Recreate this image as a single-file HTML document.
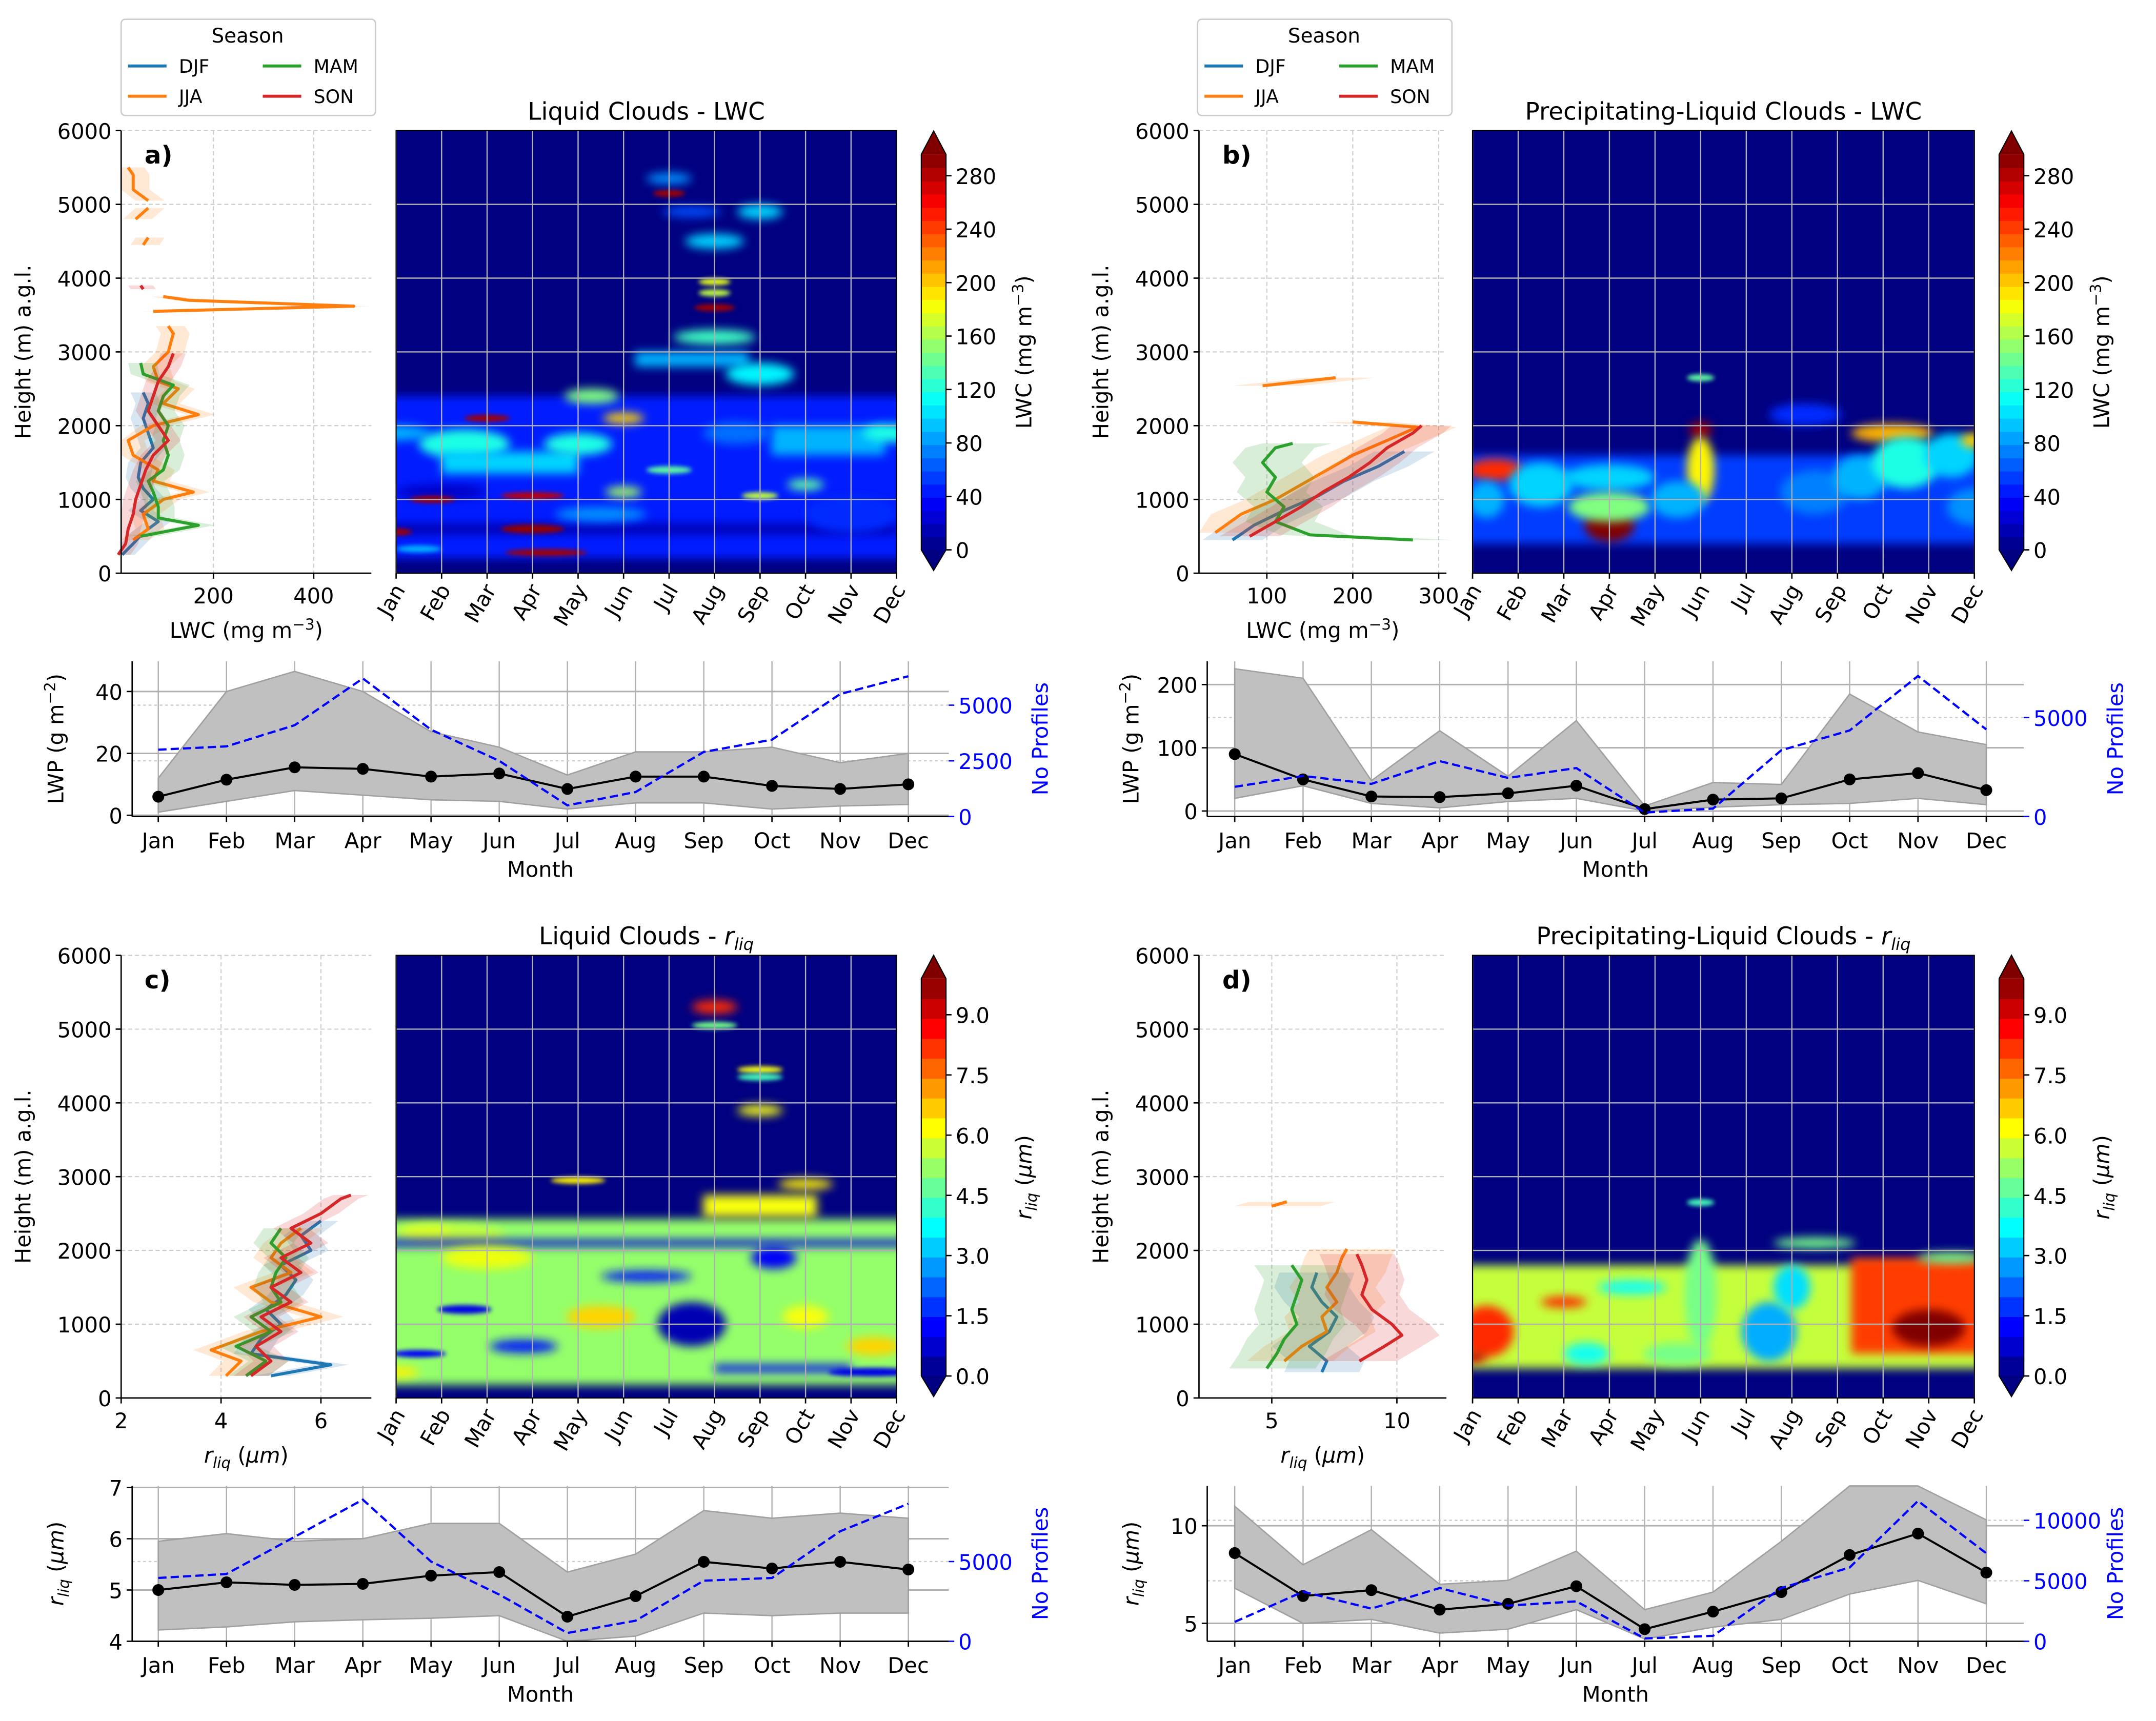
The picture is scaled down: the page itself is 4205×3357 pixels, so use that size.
<!DOCTYPE html>
<html><head><meta charset="utf-8"><style>
html,body{margin:0;padding:0;background:#fff;}
svg{display:block;font-family:"DejaVu Sans","Liberation Sans",sans-serif;}
</style></head><body>
<svg id="fig" width="4205" height="3357" viewBox="0 0 1568 1252" xmlns="http://www.w3.org/2000/svg">
<defs>
<filter id="blur" x="-60%" y="-200%" width="220%" height="500%"><feGaussianBlur stdDeviation="3.5"/></filter>
<filter id="blurS" x="-60%" y="-200%" width="220%" height="500%"><feGaussianBlur stdDeviation="1.6"/></filter>
<clipPath id="clipA"><rect x="288" y="95" width="364" height="322"/></clipPath>
<clipPath id="clipB"><rect x="1071" y="95" width="365" height="322"/></clipPath>
<clipPath id="clipC"><rect x="288" y="695" width="364" height="322"/></clipPath>
<clipPath id="clipD"><rect x="1071" y="695" width="365" height="322"/></clipPath>
</defs>
</svg>
<script>
const months=['Jan','Feb','Mar','Apr','May','Jun','Jul','Aug','Sep','Oct','Nov','Dec'];
const seasonNames=['DJF','JJA','MAM','SON'];
const seasonColors=['#1f77b4','#ff7f0e','#2ca02c','#d62728'];

// Bottom panel data
const lwpMeanA=[6,11.5,15.5,15,12.5,13.5,8.5,12.5,12.5,9.5,8.5,10];
const lwpUpA=[12,40,46.5,40,27,22,13,20.5,20.5,22,17,20];
const lwpLoA=[1,4.5,8,6.5,5,4.5,2,4,4,2,3,3.5];
const nProfA=[3000,3150,4100,6200,3900,2500,500,1100,2900,3450,5500,6300];

const lwpMeanB=[90,50,23,22,28,40,3,18,20,50,60,33];
const lwpUpB=[225,210,48,127,55,143,8,45,42,185,125,105];
const lwpLoB=[20,40,12,5,15,20,0,6,10,12,20,10];
const nProfB=[1500,2050,1650,2800,1950,2450,200,400,3350,4350,7100,4400];

const rMeanC=[5.0,5.15,5.1,5.12,5.28,5.35,4.48,4.88,5.55,5.42,5.55,5.4];
const rUpC=[5.95,6.1,5.95,6.0,6.3,6.3,5.35,5.7,6.55,6.4,6.5,6.4];
const rLoC=[4.22,4.28,4.38,4.42,4.45,4.5,4.0,4.1,4.55,4.5,4.55,4.55];
const nProfC=[3970,4220,6550,8880,5000,2930,520,1290,3800,3970,6900,8620];

const rMeanD=[8.6,6.4,6.7,5.7,6.0,6.9,4.7,5.6,6.6,8.5,9.6,7.6];
const rUpD=[11,8,9.8,7,7.2,8.7,5.7,6.6,9.2,12.5,12.5,10.3];
const rLoD=[6.8,5,5.2,4.5,4.7,5.7,4.2,4.8,5.2,6.5,7.2,6];
const nProfD=[1600,4100,2700,4400,2950,3300,230,450,4400,6100,11600,7270];

// Profiles: [height, value], null = break
const profA_DJF=[[250,18],[400,40],[550,60],[700,90],[850,55],[1000,80],[1150,60],[1300,50],[1500,55],[1700,80],[1900,70],[2100,60],[2300,70],[2450,60]];
const profA_JJA=[[450,40],[600,70],[800,60],[1000,100],[1100,160],[1250,80],[1400,90],[1600,40],[1800,30],[2000,80],[2150,170],[2300,100],[2500,130],[2600,90],[2800,80],[3000,110],[3250,120],[3350,110],null,[3550,80],[3620,480],[3700,150],[3750,100],null,[4450,60],[4550,70],null,[4800,45],[4950,70],null,[5050,70],[5200,40],[5400,40],[5500,30]];
const profA_MAM=[[500,55],[650,170],[750,90],[900,90],[1100,80],[1250,70],[1400,100],[1600,110],[1800,100],[2000,110],[2200,90],[2400,100],[2550,120],[2700,60],[2850,55]];
const profA_SON=[[250,10],[400,25],[600,30],[800,40],[1000,45],[1200,55],[1400,65],[1600,80],[1800,110],[2000,90],[2200,70],[2400,80],[2600,90],[2800,110],[2980,120],null,[3850,60],[3900,55]];

const profB_DJF=[[450,60],[650,85],[850,120],[1050,160],[1250,190],[1450,230],[1650,260]];
const profB_JJA=[[550,40],[800,70],[1000,110],[1200,140],[1400,170],[1600,200],[1800,240],[1980,275],[2050,200],null,[2540,95],[2650,180]];
const profB_MAM=[[450,270],[520,150],[700,110],[900,120],[1100,100],[1300,110],[1500,95],[1700,110],[1760,130]];
const profB_SON=[[500,80],[700,110],[900,140],[1100,165],[1300,195],[1500,220],[1700,240],[1900,270],[2000,280]];

const profC_DJF=[[300,5.0],[450,6.2],[600,4.6],[800,4.8],[1000,5.2],[1200,4.9],[1400,5.3],[1600,5.5],[1800,5.2],[2000,5.8],[2200,5.6],[2400,6.0]];
const profC_JJA=[[300,4.1],[500,4.4],[650,3.8],[900,4.8],[1100,6.0],[1300,5.0],[1500,4.6],[1700,5.4],[1900,5.0],[2100,5.2],[2300,5.6]];
const profC_MAM=[[300,4.5],[500,4.9],[700,4.3],[900,5.0],[1100,4.6],[1300,5.2],[1500,5.0],[1700,5.1],[1900,5.3],[2100,5.0],[2300,5.2]];
const profC_SON=[[300,4.6],[500,5.0],[700,4.7],[900,5.2],[1100,4.8],[1300,5.4],[1500,5.0],[1700,5.6],[1900,5.2],[2100,5.8],[2300,5.4],[2500,6.0],[2700,6.4],[2750,6.6]];

const profD_DJF=[[350,7],[500,7.2],[700,6.5],[900,7.3],[1100,7.6],[1300,7.0],[1500,6.6],[1700,6.8]];
const profD_JJA=[[500,5.5],[700,6.2],[900,7.2],[1100,7.0],[1300,7.6],[1500,7.2],[1700,7.6],[1900,7.8],[2020,8.0],null,[2600,5.0],[2660,5.6]];
const profD_MAM=[[400,4.8],[600,5.2],[800,5.5],[1000,6.0],[1200,5.8],[1400,6.0],[1600,6.2],[1800,5.8]];
const profD_SON=[[500,8.5],[700,9.5],[850,10.2],[1000,9.8],[1200,9.0],[1400,8.6],[1600,8.8],[1800,8.6],[1950,8.4]];

// Heatmap blobs: [month index, height, value, width (months), depth (m)]
const blobsA=[[5.5,1300,45,12.5,2200],[1,1100,20,2,200],[5,600,15,12,150],[0,1900,90,1.5,200],[1.5,1750,120,2,400],[2,2100,290,1.0,50],[2.5,1500,100,3,300],[0.8,1000,290,1.0,80],[0,560,290,0.7,70],[0.5,330,90,1,60],[3,600,295,1.4,120],[3,1050,280,1.4,50],[3.3,280,290,1.8,25],[5,2100,200,0.9,150],[4.3,2400,150,1.2,200],[4,1750,120,1.5,300],[6,5150,290,0.7,40],[6,5350,80,1,150],[6.5,4900,60,1.3,150],[7,3600,290,0.9,80],[7,3800,170,0.7,60],[7,3950,180,0.7,40],[7,3200,130,1.8,200],[6.5,2900,90,2.5,200],[7,4500,100,1.3,200],[8,4900,100,1,200],[8,2700,110,1.5,300],[8,1050,170,0.8,80],[9,1200,140,0.8,150],[6,1400,140,1.0,100],[9.5,1800,90,2.5,400],[11,1900,120,1.5,250],[10,800,50,2,500],[5,1100,160,0.8,150],[4.5,800,80,2,200],[11.5,2800,80,0.7,120],[11.5,2300,90,0.8,150],[7.5,1900,70,1.5,300]];
const blobsB=[[5.5,1000,55,12,1200],[0.5,1400,250,1.2,300],[0.3,1000,90,0.8,500],[1.5,1200,100,1.4,600],[3,1300,100,2,350],[3,650,300,1.1,450],[3,900,150,1.8,400],[5,1950,290,0.5,200],[5,1400,190,0.6,900],[5,2650,140,0.6,70],[4.5,1000,90,1.2,500],[7.5,1100,75,1.5,600],[7.3,2150,50,1.6,300],[8.5,1300,90,1.2,600],[9.2,1900,210,1.8,250],[9.5,1500,120,1.5,700],[10.5,1600,100,1.2,600],[11,1800,200,0.6,200],[11,900,80,1.2,500]];
const blobsC=[[5.5,1300,5.3,12.5,2250],[1.3,2200,5.8,2.2,300],[0.6,2250,6,1.2,200],[5.5,2100,1.0,12,80],[1.5,1200,1.0,1.2,120],[0.5,600,1.2,1.2,100],[2.8,700,1.5,1.5,180],[5.5,1650,1.5,2,150],[6.5,1000,0.5,1.5,600],[8.5,400,1.3,3,100],[8.3,1900,1.2,1.0,300],[10.5,350,1.0,2,120],[2,1900,6.2,2,300],[4.5,1100,6.8,1.5,300],[9,1100,6.3,1,300],[10.5,700,6.8,1.2,250],[0,350,6.5,1,150],[7,5300,8.5,1.0,180],[7,5050,5,1.0,40],[8,4450,6.3,1.0,80],[8,4350,4.5,1.0,20],[8,3900,6.3,1.0,150],[4,2950,6.5,1.2,50],[11.5,3050,4.5,0.6,50],[8,2600,6.3,2.5,300],[9,2900,6.5,1.2,150],[11.5,2300,5,0.6,250]];
const blobsD=[[5.5,1100,5.8,12,1400],[0.3,900,8.5,1.2,700],[0,550,9.5,0.6,150],[2,1300,8.5,1,150],[3.5,1500,4,1.5,200],[5,1400,5,0.7,1500],[5,2650,4.5,0.6,50],[6.5,900,3,1.2,800],[7.5,2100,5,1.8,150],[7,1500,3.5,0.8,600],[9.9,1250,8.3,3.2,1300],[10,950,10.3,1.6,500],[10.5,1900,5,1.5,150],[4.5,600,5,1.5,300],[2.5,600,4,1,300]];

const NS='http://www.w3.org/2000/svg';
const svg=document.getElementById('fig');
const FS=15.5;
function mk(tag,attrs,parent){const e=document.createElementNS(NS,tag);for(const k in attrs)e.setAttribute(k,attrs[k]);(parent||svg).appendChild(e);return e;}
function txt(str,attrs,parent){const e=mk('text',attrs,parent);e.textContent=str;return e;}
function cl(x){return Math.max(0,Math.min(1,x));}
function jet(t){t=cl(t);const r=cl(1.5-Math.abs(4*t-3)),g=cl(1.5-Math.abs(4*t-2)),b=cl(1.5-Math.abs(4*t-1));return 'rgb('+Math.round(r*255)+','+Math.round(g*255)+','+Math.round(b*255)+')';}

function drawLegend(x,y){
  const g=mk('g',{});
  
  
  mk('rect',{x:x,y:y,width:185,height:70,rx:3,fill:'#fff',stroke:'#ccc','stroke-width':1},g);
  txt('Season',{x:x+92,y:y+17,'font-size':14.5,'text-anchor':'middle'},g);
  const pos=[[5,34],[5,56],[103,34],[103,56]];
  for(let i=0;i<4;i++){
    const e=mk('g',{},g);
    
    
    mk('line',{x1:x+pos[i][0],x2:x+pos[i][0]+28,y1:y+pos[i][1],y2:y+pos[i][1],stroke:seasonColors[i],'stroke-width':2.2},e);
    txt(seasonNames[i],{x:x+pos[i][0]+37,y:y+pos[i][1]+5,'font-size':13.5},e);
  }
}

function drawProfile(P){
  const g=mk('g',{});
  
  
  const px=v=>P.x0+(v-P.xmin)/(P.xmax-P.xmin)*(P.x1-P.x0);
  const py=h=>P.y1-h/6000*(P.y1-P.y0);
  for(let h=1000;h<=6000;h+=1000) mk('line',{x1:P.x0,x2:P.x1,y1:py(h),y2:py(h),stroke:'#ccc','stroke-width':0.8,'stroke-dasharray':'3,2'},g);
  P.xticks.forEach(v=>mk('line',{x1:px(v),x2:px(v),y1:P.y0,y2:P.y1,stroke:'#ccc','stroke-width':0.8,'stroke-dasharray':'3,2'},g));
  const series=P.series;
  for(let s=0;s<4;s++){
    const sg=mk('g',{},g);
    
    
    let segs=[[]];
    series[s].forEach(p=>{if(p===null)segs.push([]);else segs[segs.length-1].push(p);});
    segs.forEach(seg=>{
      if(seg.length<2)return;
      const up=seg.map(p=>px(Math.min(P.xmax+50,p[1]+P.spread*(s===1||s===2?1.3:1)))+','+py(p[0]));
      const lo=seg.slice().reverse().map(p=>px(Math.max(P.xmin,p[1]-P.spread))+','+py(p[0]));
      const band=mk('polygon',{points:up.concat(lo).join(' '),fill:seasonColors[s],'fill-opacity':0.18,stroke:'none'},sg);
      
      mk('polyline',{points:seg.map(p=>px(p[1])+','+py(p[0])).join(' '),fill:'none',stroke:seasonColors[s],'stroke-width':2.2,'stroke-linejoin':'round'},sg);
    });
  }
  mk('line',{x1:P.x0,x2:P.x0,y1:P.y0,y2:P.y1,stroke:'#000','stroke-width':1},g);
  mk('line',{x1:P.x0,x2:P.x1,y1:P.y1,y2:P.y1,stroke:'#000','stroke-width':1},g);
  for(let h=0;h<=6000;h+=1000){
    mk('line',{x1:P.x0-4,x2:P.x0,y1:py(h),y2:py(h),stroke:'#000'},g);
    txt(String(h),{x:P.x0-7,y:py(h)+6,'font-size':FS,'text-anchor':'end'},g);
  }
  P.xticks.forEach((v,i)=>{
    mk('line',{x1:px(v),x2:px(v),y1:P.y1,y2:P.y1+4,stroke:'#000'},g);
    txt(P.xlabels[i],{x:px(v),y:P.y1+22,'font-size':FS,'text-anchor':'middle'},g);
  });
  const yl=txt('Height (m) a.g.l.',{x:0,y:0,'font-size':FS,'text-anchor':'middle',transform:'translate('+(P.x0-66)+','+((P.y0+P.y1)/2)+') rotate(-90)'},g);
  
  const xl=mk('text',{x:(P.x0+P.x1)/2,y:P.y1+47,'font-size':FS,'text-anchor':'middle'},g);
  
  if(P.xtitle==='lwc'){xl.innerHTML='LWC (mg m<tspan dy="-6" font-size="11">−3</tspan><tspan dy="6">)</tspan>';}
  else{xl.innerHTML='<tspan font-style="italic">r</tspan><tspan font-style="italic" font-size="11" dy="4">liq</tspan><tspan dy="-4"> (</tspan><tspan font-style="italic">μm</tspan>)';}
  const lt=txt(P.letter,{x:P.x0+17,y:P.y0+24,'font-size':18,'font-weight':'bold'},g);
  
}

function drawHeatmap(H){
  const g=mk('g',{});
  
  
  const mx=m=>H.x0+m*(H.x1-H.x0)/11;
  const py=h=>H.y1-h/6000*(H.y1-H.y0);
  mk('rect',{x:H.x0,y:H.y0,width:H.x1-H.x0,height:H.y1-H.y0,fill:'#000080'},g);
  const bg=mk('g',{'clip-path':H.clip},g);
  H.blobs.forEach(b=>{
    const w=b[3]*(H.x1-H.x0)/11, h=Math.max(5,b[4]/6000*(H.y1-H.y0));
    let r;
    if(b[3]>=2.5) r=mk('rect',{x:mx(b[0])-w/2,y:py(b[1])-h/2,width:w,height:h,fill:jet(b[2]/H.cmax),filter:'url(#blur)'},bg);
    else r=mk('ellipse',{cx:mx(b[0]),cy:py(b[1]),rx:w/2,ry:h/2,fill:jet(b[2]/H.cmax),filter:(b[4]<150?'url(#blurS)':'url(#blur)')},bg);
    
  });
  for(let i=0;i<12;i++) mk('line',{x1:mx(i),x2:mx(i),y1:H.y0,y2:H.y1,stroke:'#b0b0b0','stroke-width':0.9},g);
  for(let h=1000;h<=5000;h+=1000) mk('line',{x1:H.x0,x2:H.x1,y1:py(h),y2:py(h),stroke:'#b0b0b0','stroke-width':0.9},g);
  mk('rect',{x:H.x0,y:H.y0,width:H.x1-H.x0,height:H.y1-H.y0,fill:'none',stroke:'#000','stroke-width':0.8},g);
  months.forEach((m,i)=>{
    mk('line',{x1:mx(i),x2:mx(i),y1:H.y1,y2:H.y1+4,stroke:'#000'},g);
    txt(m,{x:0,y:0,'font-size':FS,'text-anchor':'end',transform:'translate('+(mx(i)+7)+','+(H.y1+12)+') rotate(-60)'},g);
  });
  const t=mk('text',{x:(H.x0+H.x1)/2,y:H.y0-8,'font-size':17.5,'text-anchor':'middle'},g);
  
  if(H.rliq){t.innerHTML=H.title+' - <tspan font-style="italic">r</tspan><tspan font-style="italic" font-size="12" dy="4">liq</tspan>';}
  else t.textContent=H.title;
}

function drawColorbar(C){
  const g=mk('g',{});
  
  
  const cy=v=>C.yZero-(v-0)*C.scale;
  const top=cy(C.cmax);
  const n=C.levels;
  for(let i=0;i<n;i++){
    const v0=C.cmax*i/n, v1=C.cmax*(i+1)/n;
    mk('rect',{x:C.x,y:cy(v1),width:18,height:cy(v0)-cy(v1)+0.5,fill:jet((i+0.5)/n)},g);
  }
  mk('polygon',{points:C.x+','+top+' '+(C.x+18)+','+top+' '+(C.x+9)+','+(top-17),fill:jet(1)},g);
  mk('polygon',{points:C.x+','+C.yZero+' '+(C.x+18)+','+C.yZero+' '+(C.x+9)+','+(C.yZero+15),fill:jet(0)},g);
  mk('polygon',{points:C.x+','+top+' '+(C.x+9)+','+(top-17)+' '+(C.x+18)+','+top+' '+(C.x+18)+','+C.yZero+' '+(C.x+9)+','+(C.yZero+15)+' '+C.x+','+C.yZero,fill:'none',stroke:'#000','stroke-width':0.8},g);
  C.ticks.forEach((v,i)=>{
    mk('line',{x1:C.x+18,x2:C.x+22,y1:cy(v),y2:cy(v),stroke:'#000'},g);
    txt(C.tickLabels[i],{x:C.x+25,y:cy(v)+6,'font-size':FS},g);
  });
  const l=mk('text',{x:0,y:0,'font-size':FS,'text-anchor':'middle',transform:'translate('+(C.x+80)+','+((top+C.yZero)/2)+') rotate(-90)'},g);
  
  if(C.rliq) l.innerHTML='<tspan font-style="italic">r</tspan><tspan font-style="italic" font-size="11" dy="4">liq</tspan><tspan dy="-4"> (</tspan><tspan font-style="italic">μm</tspan>)';
  else l.innerHTML='LWC (mg m<tspan dy="-6" font-size="11">−3</tspan><tspan dy="6">)</tspan>';
}

function drawMonthly(M){
  const g=mk('g',{});
  
  
  const mx=i=>M.m0+i*M.dm;
  const yl=v=>M.y1-(v-M.lmin)/(M.lmax-M.lmin)*(M.y1-M.y0);
  const yr=v=>M.y1-v/M.rmax*(M.y1-M.y0);
  for(let i=0;i<12;i++) mk('line',{x1:mx(i),x2:mx(i),y1:M.y0,y2:M.y1,stroke:'#b0b0b0','stroke-width':0.9},g);
  M.lticks.forEach(v=>mk('line',{x1:M.x0,x2:M.x1,y1:yl(v),y2:yl(v),stroke:'#b0b0b0','stroke-width':1.1},g));
  M.rticks.forEach(v=>{if(v>0)mk('line',{x1:M.x0,x2:M.x1,y1:yr(v),y2:yr(v),stroke:'#ccc','stroke-width':0.9,'stroke-dasharray':'2,2'},g);});
  const up=M.up.map((v,i)=>mx(i)+','+Math.max(M.y0,yl(v)));
  const lo=M.lo.map((v,i)=>mx(i)+','+yl(v)).reverse();
  const band=mk('polygon',{points:up.concat(lo).join(' '),fill:'#c0c0c0',stroke:'#a0a0a0','stroke-width':1},g);
  
  const ml=mk('polyline',{points:M.mean.map((v,i)=>mx(i)+','+yl(v)).join(' '),fill:'none',stroke:'#000','stroke-width':1.5},g);
  
  M.mean.forEach((v,i)=>{
    const c=mk('circle',{cx:mx(i),cy:yl(v),r:4.3,fill:'#000'},g);
    
  });
  const nl=mk('polyline',{points:M.n.map((v,i)=>mx(i)+','+yr(v)).join(' '),fill:'none',stroke:'#0000ff','stroke-width':1.6,'stroke-dasharray':'6,3'},g);
  
  mk('line',{x1:M.x0,x2:M.x0,y1:M.y0,y2:M.y1,stroke:'#000'},g);
  mk('line',{x1:M.x0,x2:M.x1,y1:M.y1,y2:M.y1,stroke:'#000'},g);
  M.lticks.forEach((v,i)=>{
    mk('line',{x1:M.x0-4,x2:M.x0,y1:yl(v),y2:yl(v),stroke:'#000'},g);
    txt(M.llabels[i],{x:M.x0-7,y:yl(v)+6,'font-size':FS,'text-anchor':'end'},g);
  });
  M.rticks.forEach((v,i)=>{
    mk('line',{x1:M.x1,x2:M.x1+4,y1:yr(v),y2:yr(v),stroke:'#0000ff'},g);
    txt(M.rlabels[i],{x:M.x1+7,y:yr(v)+6,'font-size':FS,fill:'#0000ff'},g);
  });
  months.forEach((m,i)=>{
    mk('line',{x1:mx(i),x2:mx(i),y1:M.y1,y2:M.y1+4,stroke:'#000'},g);
    txt(m,{x:mx(i),y:M.y1+23,'font-size':FS,'text-anchor':'middle'},g);
  });
  const xt=txt('Month',{x:(M.x0+M.x1)/2,y:M.y1+44,'font-size':FS,'text-anchor':'middle'},g);
  
  const ylab=mk('text',{x:0,y:0,'font-size':FS,'text-anchor':'middle',transform:'translate('+(M.x0-50)+','+((M.y0+M.y1)/2)+') rotate(-90)'},g);
  
  if(M.rliq) ylab.innerHTML='<tspan font-style="italic">r</tspan><tspan font-style="italic" font-size="11" dy="4">liq</tspan><tspan dy="-4"> (</tspan><tspan font-style="italic">μm</tspan>)';
  else ylab.innerHTML='LWP (g m<tspan dy="-6" font-size="11">−2</tspan><tspan dy="6">)</tspan>';
  const rl=txt('No Profiles',{x:0,y:0,'font-size':FS,'text-anchor':'middle',fill:'#0000ff',transform:'translate('+(M.x1+72)+','+((M.y0+M.y1)/2)+') rotate(-90)'},g);
  
}

drawLegend(88,14);
drawLegend(871,14);

drawProfile({name:'profile-panel-a',x0:88,x1:270,y0:95,y1:417,xmin:16,xmax:515,spread:25,xticks:[200,400],xlabels:['200','400'],xtitle:'lwc',letter:'a)',series:[profA_DJF,profA_JJA,profA_MAM,profA_SON]});
drawProfile({name:'profile-panel-b',x0:872,x1:1052,y0:95,y1:417,xmin:21,xmax:309,spread:35,xticks:[100,200,300],xlabels:['100','200','300'],xtitle:'lwc',letter:'b)',series:[profB_DJF,profB_JJA,profB_MAM,profB_SON]});
drawProfile({name:'profile-panel-c',x0:88,x1:270,y0:695,y1:1017,xmin:2,xmax:7.01,spread:0.35,xticks:[2,4,6],xlabels:['2','4','6'],xtitle:'r',letter:'c)',series:[profC_DJF,profC_JJA,profC_MAM,profC_SON]});
drawProfile({name:'profile-panel-d',x0:872,x1:1052,y0:695,y1:1017,xmin:2.09,xmax:11.98,spread:1.5,xticks:[5,10],xlabels:['5','10'],xtitle:'r',letter:'d)',series:[profD_DJF,profD_JJA,profD_MAM,profD_SON]});

drawHeatmap({name:'heatmap-a',x0:288,x1:652,y0:95,y1:417,cmax:300,blobs:blobsA,clip:'url(#clipA)',title:'Liquid Clouds - LWC'});
drawHeatmap({name:'heatmap-b',x0:1071,x1:1436,y0:95,y1:417,cmax:300,blobs:blobsB,clip:'url(#clipB)',title:'Precipitating-Liquid Clouds - LWC'});
drawHeatmap({name:'heatmap-c',x0:288,x1:652,y0:695,y1:1017,cmax:10.2,blobs:blobsC,clip:'url(#clipC)',title:'Liquid Clouds',rliq:true});
drawHeatmap({name:'heatmap-d',x0:1071,x1:1436,y0:695,y1:1017,cmax:10.2,blobs:blobsD,clip:'url(#clipD)',title:'Precipitating-Liquid Clouds',rliq:true});

const lwcTicks=[0,40,80,120,160,200,240,280];
const rTicks=[0,1.5,3,4.5,6,7.5,9];
drawColorbar({x:670,yZero:400,scale:0.972,cmax:296,levels:30,ticks:lwcTicks,tickLabels:lwcTicks.map(String)});
drawColorbar({x:1454,yZero:400,scale:0.972,cmax:296,levels:30,ticks:lwcTicks,tickLabels:lwcTicks.map(String)});
drawColorbar({x:670,yZero:1001,scale:29.2,cmax:9.9,levels:20,ticks:rTicks,tickLabels:rTicks.map(v=>v.toFixed(1)),rliq:true});
drawColorbar({x:1454,yZero:1001,scale:29.2,cmax:9.9,levels:20,ticks:rTicks,tickLabels:rTicks.map(v=>v.toFixed(1)),rliq:true});

drawMonthly({name:'monthly-lwp-a',x0:96,x1:690,y0:481,y1:594,m0:115,dm:49.6,lmin:-0.4,lmax:49.8,rmax:6975,mean:lwpMeanA,up:lwpUpA,lo:lwpLoA,n:nProfA,lticks:[0,20,40],llabels:['0','20','40'],rticks:[0,2500,5000],rlabels:['0','2500','5000']});
drawMonthly({name:'monthly-lwp-b',x0:878,x1:1472,y0:481,y1:594,m0:898,dm:49.7,lmin:-8.7,lmax:237,rmax:7850,mean:lwpMeanB,up:lwpUpB,lo:lwpLoB,n:nProfB,lticks:[0,100,200],llabels:['0','100','200'],rticks:[0,5000],rlabels:['0','5000']});
drawMonthly({name:'monthly-rliq-c',x0:96,x1:690,y0:1081,y1:1194,m0:115,dm:49.6,lmin:4,lmax:7.03,rmax:9740,mean:rMeanC,up:rUpC,lo:rLoC,n:nProfC,lticks:[4,5,6,7],llabels:['4','5','6','7'],rticks:[0,5000],rlabels:['0','5000'],rliq:true});
drawMonthly({name:'monthly-rliq-d',x0:878,x1:1472,y0:1081,y1:1194,m0:898,dm:49.7,lmin:4.08,lmax:12.04,rmax:12840,mean:rMeanD,up:rUpD,lo:rLoD,n:nProfD,lticks:[5,10],llabels:['5','10'],rticks:[0,5000,10000],rlabels:['0','5000','10000'],rliq:true});
</script>
</body></html>
